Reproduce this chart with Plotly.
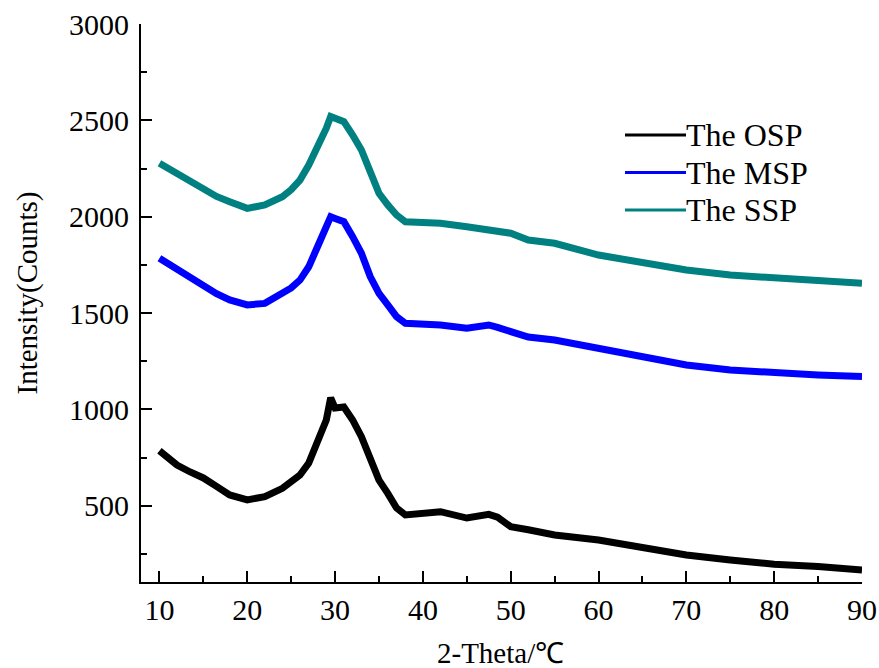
import plotly.graph_objects as go

# 2-Theta positions (degrees) and intensities
two_theta = [10, 11, 12, 13.5, 15, 16.5, 18, 20, 22, 24, 25, 26, 27, 28, 29, 29.5, 30, 31, 32,
             33, 34, 35, 36, 37, 38, 40, 42, 45, 47.5, 48.5, 50, 52, 55, 60, 65, 70, 75, 80, 85, 90]

osp = [785, 750, 711, 675, 644, 600, 556, 530, 547, 590, 620, 659, 721, 832, 945, 1060, 1007, 1012, 945,
       858, 737, 633, 564, 488, 452, 462, 469, 436, 455, 440, 391, 375, 348, 322, 280, 244, 218, 196, 184, 166]

msp = [1784, 1755, 1723, 1680, 1637, 1600, 1568, 1542, 1550, 1602, 1630, 1671, 1740, 1844, 1948, 2000, 1991, 1974, 1896,
       1810, 1689, 1602, 1542, 1481, 1447, 1447, 1438, 1421, 1438, 1425, 1403, 1375, 1360, 1317, 1273, 1230, 1204, 1187, 1178, 1170]

ssp = [2277, 2250, 2225, 2180, 2138, 2105, 2078, 2043, 2061, 2104, 2140, 2190, 2268, 2355, 2459, 2520, 2511, 2493, 2424,
       2346, 2234, 2121, 2061, 2009, 1974, 1974, 1966, 1948, 1935, 1928, 1914, 1879, 1862, 1801, 1758, 1723, 1697, 1680, 1671, 1654]

series_names = ["The OSP", "The MSP", "The SSP"]
series_values = [osp, msp, ssp]
series_colors = ["#000000", "#0000FF", "#008080"]

x_tick_vals = [10, 20, 30, 40, 50, 60, 70, 80, 90]
y_tick_vals = [500, 1000, 1500, 2000, 2500, 3000]

FONT = "Liberation Serif"

fig = go.Figure()
for name, vals, col in zip(series_names, series_values, series_colors):
    fig.add_trace(go.Scatter(x=two_theta, y=vals, mode="lines", name=name,
                             line=dict(color=col, width=7), showlegend=False))

# legend drawn as paper-anchored line samples + labels
legend_rows_px = [135, 172.5, 210]
for name, col, py in zip(series_names, series_colors, legend_rows_px):
    ly = (582 - py) / 558
    fig.add_shape(type="line", xref="paper", yref="paper",
                  x0=(625 - 141) / 721, x1=(686 - 141) / 721, y0=ly, y1=ly,
                  line=dict(color=col, width=3))
    fig.add_annotation(text=name, xref="paper", yref="paper", x=(684 - 141) / 721, y=ly,
                       xanchor="left", yanchor="middle", showarrow=False,
                       font=dict(family=FONT, size=32, color="black"))

# y-axis title
fig.add_annotation(text="Intensity(Counts)", xref="paper", yref="paper",
                   x=(27 - 141) / 721, y=(582 - 292.5) / 558, textangle=-90,
                   xanchor="center", yanchor="middle", showarrow=False,
                   font=dict(family=FONT, size=29, color="black"))

# x-axis title
fig.add_annotation(text="2-Theta/℃", xref="paper", yref="paper",
                   x=(500 - 141) / 721, y=-(653 - 582) / 558,
                   xanchor="center", yanchor="middle", showarrow=False,
                   font=dict(family=FONT, size=29, color="black"))

fig.update_layout(
    width=879, height=668,
    margin=dict(l=141, r=17, t=24, b=86, autoexpand=False),
    paper_bgcolor="white", plot_bgcolor="white",
    font=dict(family=FONT, size=30, color="black"),
)
fig.update_xaxes(
    range=[7.9, 90], tickvals=x_tick_vals, showgrid=False, zeroline=False, automargin=False,
    showline=True, linecolor="black", linewidth=2,
    ticks="inside", ticklen=11, tickwidth=2, tickcolor="black",
    minor=dict(ticks="inside", ticklen=6, tickwidth=2, tickcolor="black", dtick=5, tick0=5, showgrid=False),
    tickfont=dict(family=FONT, size=30, color="black"),
    ticklabelstandoff=0,
)
fig.update_yaxes(
    range=[104, 3000], tickvals=y_tick_vals, showgrid=False, zeroline=False, automargin=False,
    showline=True, linecolor="black", linewidth=2,
    ticks="inside", ticklen=11, tickwidth=2, tickcolor="black",
    minor=dict(ticks="inside", ticklen=6, tickwidth=2, tickcolor="black", dtick=250, tick0=0, showgrid=False),
    tickfont=dict(family=FONT, size=30, color="black"),
    ticklabelstandoff=4,
)

fig.write_html("out.html")
